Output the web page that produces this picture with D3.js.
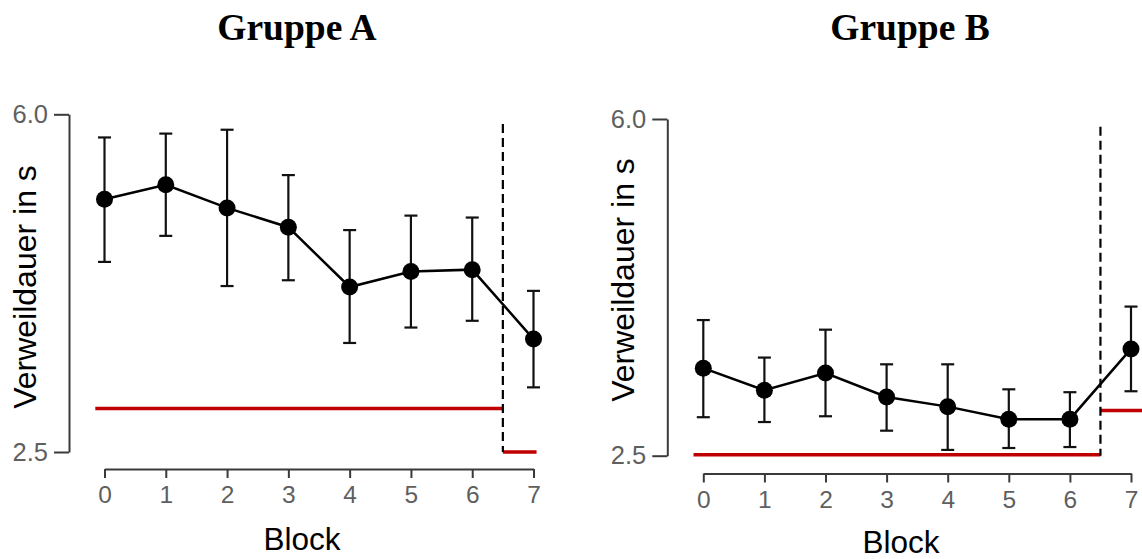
<!DOCTYPE html>
<html>
<head>
<meta charset="utf-8">
<script src="https://cdn.jsdelivr.net/npm/d3@7"></script>
<style>
  html, body { margin: 0; padding: 0; background: #fff; }
  svg { display: block; }
</style>
</head>
<body>
<svg id="chart" width="1142" height="559"></svg>
<script>
// ---- data ----
const blocks = [0, 1, 2, 3, 4, 5, 6, 7];
const titles = ["Gruppe A", "Gruppe B"];
const yTicks = [2.5, 6.0];
const yLabel = "Verweildauer in s";
const xLabel = "Block";

const meanA  = [5.12, 5.27, 5.03, 4.83, 4.21, 4.37, 4.39, 3.67];
const upperA = [5.76, 5.80, 5.84, 5.37, 4.80, 4.95, 4.93, 4.17];
const lowerA = [4.47, 4.74, 4.22, 4.28, 3.63, 3.79, 3.86, 3.17];

const meanB  = [3.41, 3.18, 3.36, 3.11, 3.01, 2.88, 2.88, 3.61];
const upperB = [3.91, 3.52, 3.81, 3.45, 3.45, 3.19, 3.16, 4.05];
const lowerB = [2.90, 2.85, 2.91, 2.76, 2.56, 2.58, 2.59, 3.17];

// reference (chance-level) segments: [from block, to block, value]
const refA = [[-0.15, 6.5, 2.95], [6.5, 7.05, 2.50]];
const refB = [[-0.16, 6.5, 2.51], [6.5, 7.25, 2.97]];
const splitBlock = 6.5;
const splitTopA = 5.9;
const splitTopB = 5.92;

// ---- layout ----
const panels = [
  { title: titles[0], mean: meanA, upper: upperA, lower: lowerA, ref: refA, splitTop: splitTopA,
    xr: [104.5, 533.5], yr: [452, 114.3], xAxisY: 469, yAxisX: 69,
    titleX: 297, titleY: 40, xLabX: 302, xLabY: 550, yLabX: 36, yLabY: 287 },
  { title: titles[1], mean: meanB, upper: upperB, lower: lowerB, ref: refB, splitTop: splitTopB,
    xr: [703.3, 1131], yr: [455.7, 119], xAxisY: 473.5, yAxisX: 667.3,
    titleX: 910, titleY: 40, xLabX: 901, xLabY: 553, yLabX: 634, yLabY: 280 }
];

const svg = d3.select("#chart");
const axisColor = "#3a3a3a";
const tickTextColor = "#5f5f5f";
const red = "#c00000";

panels.forEach(p => {
  const x = d3.scaleLinear().domain([0, 7]).range(p.xr);
  const y = d3.scaleLinear().domain([2.5, 6.0]).range(p.yr);
  const g = svg.append("g");

  // title
  g.append("text")
    .attr("x", p.titleX).attr("y", p.titleY)
    .attr("text-anchor", "middle")
    .attr("font-family", "'Liberation Serif', 'Times New Roman', serif")
    .attr("font-weight", "bold").attr("font-size", 37.5)
    .text(p.title);

  // y axis
  const yAxis = d3.axisLeft(y).tickValues(yTicks).tickFormat(d3.format(".1f"))
    .tickSize(15).tickPadding(6).tickSizeOuter(0);
  const ya = g.append("g").attr("transform", `translate(${p.yAxisX},0)`).call(yAxis);
  ya.select(".domain").attr("stroke", axisColor).attr("stroke-width", 2);
  ya.selectAll(".tick line").attr("stroke", axisColor).attr("stroke-width", 2);
  ya.selectAll(".tick text").attr("fill", tickTextColor)
    .attr("font-family", "'Liberation Sans', Arial, sans-serif").attr("font-size", 25.5);

  // x axis
  const xAxis = d3.axisBottom(x).tickValues(blocks).tickFormat(d3.format("d"))
    .tickSize(9).tickPadding(8).tickSizeOuter(0);
  const xa = g.append("g").attr("transform", `translate(0,${p.xAxisY})`).call(xAxis);
  xa.select(".domain").attr("stroke", axisColor).attr("stroke-width", 2);
  xa.selectAll(".tick line").attr("stroke", axisColor).attr("stroke-width", 2);
  xa.selectAll(".tick text").attr("fill", tickTextColor)
    .attr("font-family", "'Liberation Sans', Arial, sans-serif").attr("font-size", 24.5);

  // axis labels
  g.append("text")
    .attr("x", p.xLabX).attr("y", p.xLabY)
    .attr("text-anchor", "middle")
    .attr("font-family", "'Liberation Sans', Arial, sans-serif").attr("font-size", 31.5)
    .attr("fill", "#000")
    .text(xLabel);
  g.append("text")
    .attr("transform", `translate(${p.yLabX},${p.yLabY}) rotate(-90)`)
    .attr("text-anchor", "middle")
    .attr("font-family", "'Liberation Sans', Arial, sans-serif").attr("font-size", 32)
    .attr("fill", "#000")
    .text(yLabel);

  // reference segments
  g.selectAll("line.ref").data(p.ref).enter().append("line")
    .attr("class", "ref")
    .attr("x1", d => x(d[0])).attr("x2", d => x(d[1]))
    .attr("y1", d => y(d[2])).attr("y2", d => y(d[2]))
    .attr("stroke", red).attr("stroke-width", 3.5);

  // dashed separator
  g.append("line")
    .attr("x1", x(splitBlock)).attr("x2", x(splitBlock))
    .attr("y1", y(p.splitTop)).attr("y2", y(2.5))
    .attr("stroke", "#000").attr("stroke-width", 2.2)
    .attr("stroke-dasharray", "9,5");

  const pts = blocks.map((b, i) => ({ b, m: p.mean[i], lo: p.lower[i], hi: p.upper[i] }));

  // error bars
  const eb = g.selectAll("g.eb").data(pts).enter().append("g").attr("class", "eb")
    .attr("stroke", "#111").attr("stroke-width", 2.2);
  eb.append("line").attr("x1", d => x(d.b)).attr("x2", d => x(d.b))
    .attr("y1", d => y(d.lo)).attr("y2", d => y(d.hi));
  eb.append("line").attr("x1", d => x(d.b) - 6.5).attr("x2", d => x(d.b) + 6.5)
    .attr("y1", d => y(d.hi)).attr("y2", d => y(d.hi));
  eb.append("line").attr("x1", d => x(d.b) - 6.5).attr("x2", d => x(d.b) + 6.5)
    .attr("y1", d => y(d.lo)).attr("y2", d => y(d.lo));

  // mean line
  g.append("path").datum(pts)
    .attr("fill", "none").attr("stroke", "#000").attr("stroke-width", 2.5)
    .attr("d", d3.line().x(d => x(d.b)).y(d => y(d.m)));

  // points
  g.selectAll("circle.pt").data(pts).enter().append("circle")
    .attr("class", "pt")
    .attr("cx", d => x(d.b)).attr("cy", d => y(d.m)).attr("r", 8.5)
    .attr("fill", "#000");
});
</script>
</body>
</html>
